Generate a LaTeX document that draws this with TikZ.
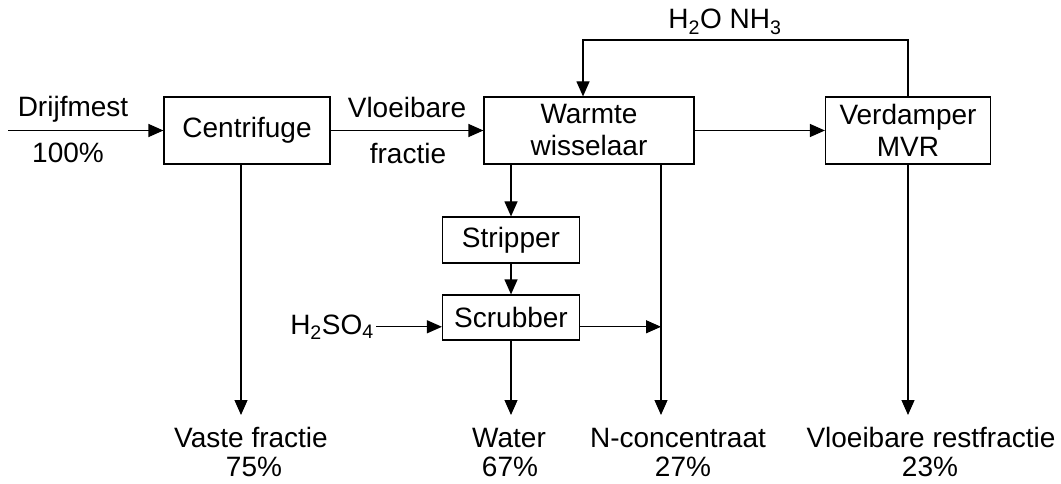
\documentclass[tikz,border=0pt]{standalone}
\usepackage{fontspec}
\setmainfont{Liberation Sans}
\usetikzlibrary{positioning,arrows.meta}

\begin{document}
\begin{tikzpicture}[x=1pt,y=-1pt,line width=1.2pt,
	every node/.style={font=\fontsize{28}{32}\selectfont,inner sep=0pt},
	unit/.style={draw,minimum height=67pt,align=center},
	txt/.style={anchor=base},
	arr/.style={-{Triangle[length=15pt,width=13pt]}}]
		\useasboundingbox (0,0) rectangle (1061,484);

		%process boxes
		\node[unit,minimum width=166pt] (cen) at (247,130.5) {Centrifuge};
		\node[unit,minimum width=210pt] (wis) at (589,130.5) {Warmte\\wisselaar};
		\node[unit,minimum width=165pt] (verd) at (908,130.5) {Verdamper\\MVR};
		\node[unit,minimum width=137pt,minimum height=46pt] (str) at (511,240) {Stripper};
		\node[unit,minimum width=137pt,minimum height=45pt] (scr) at (511,317.5) {Scrubber};

		%stream labels
		\node[txt] (drijf) at (73,117) {Drijfmest};
		\node[txt] (in) at (68,163) {100\%};
		\node[txt] (vl1) at (407,118) {Vloeibare};
		\node[txt] (vl2) at (408,164) {fractie};
		\node[txt] (damp) at (725,29) {H\textsubscript{2}O NH\textsubscript{3}};
		\node[txt] (zuur) at (332,334) {H\textsubscript{2}SO\textsubscript{4}};

		%products
		\node[txt] (l1) at (251,447) {Vaste fractie};
		\node[txt] (p1) at (254,476) {75\%};
		\node[txt] (l2) at (509,447) {Water};
		\node[txt] (p2) at (510,476) {67\%};
		\node[txt] (l3) at (678,447) {N-concentraat};
		\node[txt] (p3) at (683,476) {27\%};
		\node[txt] (l4) at (931,447) {Vloeibare restfractie};
		\node[txt] (p4) at (930,476) {23\%};

		%free ends
		\coordinate (start) at (8,130.5);
		\coordinate (top) at (583,40);
		\coordinate (vast) at (241,415);
		\coordinate (wat) at (511,415);
		\coordinate (nc) at (661,415);
		\coordinate (rest) at (908,415);

		%edges
		\draw[arr] (start) -- (cen);
		\draw[arr] (cen) -- (wis);
		\draw[arr] (wis) -- (verd);
		\draw[arr] (verd.north) |- (top) -- (top |- wis.north);
		\draw[arr] (str.north |- wis.south) -- (str.north);
		\draw[arr] (str) -- (scr);
		\draw[arr] (scr) -- (wat);
		\draw[arr] (cen.south -| vast) -- (vast);
		\draw[arr] (wis.south -| nc) -- (nc);
		\draw[arr] (verd) -- (rest);
		\draw[arr] ([xshift=2pt]zuur.east) -- (zuur.east -| scr.west);
		\draw[arr] (scr.east |- zuur.east) -- (nc |- zuur.east);
	\end{tikzpicture}
\end{document}
